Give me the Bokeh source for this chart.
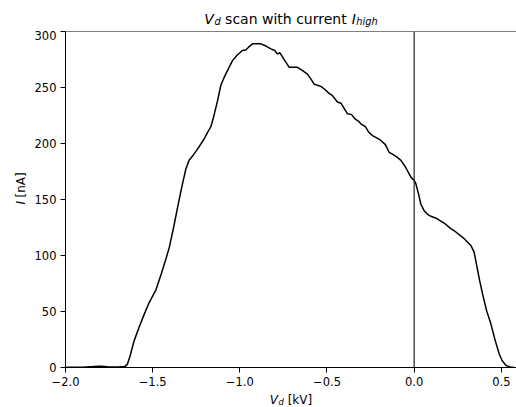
import math
from bokeh.plotting import figure
from bokeh.models import Span, FixedTicker
from bokeh.layouts import column, row
from bokeh.core.properties import value
from bokeh.embed import file_html
from bokeh.resources import INLINE

# ---- data ----
vd_kv = [-2.0, -1.90, -1.84, -1.80, -1.76, -1.70, -1.66, -1.645, -1.63, -1.606,
         -1.58, -1.55, -1.52, -1.482, -1.45, -1.42, -1.405, -1.38, -1.357, -1.34,
         -1.329, -1.31, -1.291, -1.27, -1.252, -1.23, -1.205, -1.185, -1.166, -1.15,
         -1.128, -1.109, -1.09, -1.071, -1.042, -1.015, -0.985, -0.966, -0.95, -0.927,
         -0.90, -0.879, -0.85, -0.822, -0.80, -0.784, -0.77, -0.75, -0.717, -0.669,
         -0.64, -0.612, -0.59, -0.574, -0.555, -0.535, -0.51, -0.49, -0.47, -0.44,
         -0.42, -0.40, -0.382, -0.36, -0.34, -0.32, -0.306, -0.28, -0.26, -0.239,
         -0.215, -0.191, -0.165, -0.143, -0.12, -0.10, -0.076, -0.05, -0.019, 0.0,
         0.01, 0.025, 0.038, 0.057, 0.075, 0.096, 0.13, 0.172, 0.21, 0.239,
         0.28, 0.325, 0.344, 0.36, 0.375, 0.392, 0.415, 0.44, 0.465, 0.488,
         0.505, 0.526, 0.55, 0.574]
current_na = [0.3, 0.3, 0.8, 1.2, 0.6, 0.4, 0.8, 3, 10, 24,
              35, 47, 58, 69, 84, 99, 107, 125, 143, 156,
              164, 177, 185, 189, 193, 198, 204, 210, 215, 224,
              238, 252, 259, 265, 274, 279, 283, 283.5, 286, 289,
              289, 289, 287, 284.5, 283, 280, 281, 276, 268, 268,
              265, 262, 257, 253, 252, 251, 248, 245, 243, 237,
              236, 231, 226.5, 226, 222, 220, 217.6, 215, 210, 207,
              205, 202.7, 199, 192, 190, 188, 185, 179, 170, 167,
              164, 155, 146, 140, 137, 135, 133, 129, 124, 121,
              116, 109, 103, 90, 78, 66, 51, 39, 24, 12,
              6, 2, 0.4, 0]

x_ticks = [-2.0, -1.5, -1.0, -0.5, 0.0, 0.5]
x_tick_labels = ["\u22122.0", "\u22121.5", "\u22121.0", "\u22120.5", "0.0", "0.5"]
y_ticks = [0, 50, 100, 150, 200, 250, 300]
y_tick_labels = ["0", "50", "100", "150", "200", "250", "300"]

FONT = "DejaVu Sans"
W, H = 516, 407
TITLE_H = 30
YLAB_W = 30
MAIN_W = W - YLAB_W
MAIN_H = 360
XLAB_H = H - TITLE_H - MAIN_H
LEFT_B = 35          # frame left at page x 65
FRAME_W = MAIN_W - LEFT_B
SP = 0.318           # DejaVu space advance (em)


def blank(width, height):
    f = figure(width=width, height=height, x_range=(0, width), y_range=(0, height),
               output_backend="svg", toolbar_location=None, title=None,
               x_axis_location=None, y_axis_location=None,
               min_border=0, min_border_left=0, min_border_right=0,
               min_border_top=0, min_border_bottom=0)
    f.outline_line_color = None
    f.grid.visible = False
    f.background_fill_color = "white"
    f.border_fill_color = "white"
    return f


def put(f, x, y, text, size, style="normal", angle=0.0, baseline="alphabetic"):
    f.text(x=[x], y=[y], text=[text], text_font=value(FONT), text_font_size=f"{size}px",
           text_font_style=style, text_color="black", text_align="left",
           text_baseline=baseline, angle=angle)


# ---- main plot ----
p = figure(width=MAIN_W, height=MAIN_H, x_range=(-2.0, 0.587), y_range=(0, 300),
           output_backend="svg", toolbar_location=None, title=None,
           min_border_left=LEFT_B, min_border_right=0, min_border_top=1,
           min_border_bottom=23)
p.background_fill_color = "white"
p.border_fill_color = "white"
p.outline_line_color = None
p.xgrid.visible = False
p.ygrid.visible = False

p.line(vd_kv, current_na, line_color="black", line_width=1.5)

p.add_layout(Span(location=0.0, dimension="height", line_color="#222222", line_width=1.2))
p.add_layout(Span(location=300, dimension="width", line_color="black", line_width=1))

for ax, ticks, labels in ((p.xaxis[0], x_ticks, x_tick_labels), (p.yaxis[0], y_ticks, y_tick_labels)):
    ax.ticker = FixedTicker(ticks=ticks, minor_ticks=[])
    ax.major_label_overrides = dict(zip(ticks, labels))
    ax.major_tick_out = 5
    ax.major_tick_in = 0
    ax.minor_tick_out = 0
    ax.minor_tick_in = 0
    ax.major_label_standoff = 4
    ax.major_label_text_font = FONT
    ax.major_label_text_font_size = "11.5px"
    ax.major_label_text_color = "black"
    ax.axis_line_color = "black"
    ax.major_tick_line_color = "black"
    ax.axis_label = None

# ---- title: V_d scan with current I_high ----
t = blank(W, TITLE_H)
ts = 14.0
ss = ts * 0.7
w_V = 0.684 * ts
w_d = 0.635 * ss
w_mid = (8.723 + 2 * SP) * ts
w_I = 0.295 * ts
w_high = 2.181 * ss
total = w_V + 0.5 + w_d + w_mid + w_I + 0.5 + w_high
cx = YLAB_W + LEFT_B + FRAME_W / 2
x0 = cx - total / 2
ty = TITLE_H - 18.7
put(t, x0, ty, "V", ts, "italic")
put(t, x0 + w_V + 0.5, ty - 2, "d", ss, "italic")
put(t, x0 + w_V + 0.5 + w_d + SP * ts, ty, "scan with current", ts)
put(t, x0 + w_V + 0.5 + w_d + w_mid, ty, "I", ts, "italic")
put(t, x0 + w_V + 0.5 + w_d + w_mid + w_I + 0.5, ty - 2, "high", ss, "italic")

# ---- y axis label: I [nA] (rotated) ----
yl = blank(YLAB_W, MAIN_H)
ls = 12.0
yw = 0.295 * ls + SP * ls + 2.098 * ls
ycen = MAIN_H - (199 - TITLE_H)
put(yl, 20.7, ycen - yw / 2, "I", ls, "italic", math.pi / 2, "middle")
put(yl, 20.7, ycen - yw / 2 + (0.295 + SP) * ls, "[nA]", ls, "normal", math.pi / 2, "middle")

# ---- x axis label: V_d [kV] ----
xl = blank(W, XLAB_H)
lss = ls * 0.7
xw = 0.684 * ls + 0.5 + 0.635 * lss + (SP + 2.043) * ls
xx0 = cx - xw / 2
xy = 8
put(xl, xx0, xy, "V", ls, "italic")
put(xl, xx0 + 0.684 * ls + 0.5, xy - 2, "d", lss, "italic")
put(xl, xx0 + 0.684 * ls + 0.5 + 0.635 * lss + SP * ls, xy, "[kV]", ls)

layout = column(t, row(yl, p, spacing=0), xl, spacing=0)
open("out.html", "w").write(file_html(layout, INLINE))
